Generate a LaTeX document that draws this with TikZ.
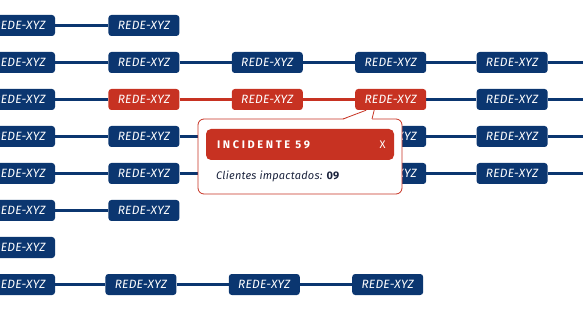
\documentclass[tikz,border=0pt]{standalone}
\usepackage{fontspec}
\setmainfont{Fira Sans}
\usepackage{tikz}
\usetikzlibrary{positioning,calc,backgrounds}
\definecolor{navy}{RGB}{11,54,112}
\definecolor{alert}{RGB}{199,50,34}
\definecolor{ink}{RGB}{28,36,62}
\tikzset{
  rede/.style={rectangle, rounded corners=3pt, fill=navy, text=white,
    minimum width=71pt, minimum height=21pt, inner sep=1pt,
    font=\fontsize{12}{12}\selectfont\itshape\addfontfeature{LetterSpace=2}},
  redefail/.style={rede, fill=alert},
  link/.style={draw=navy, line width=2.5pt},
  faillink/.style={link, draw=alert},
  popup/.style={rectangle, rounded corners=6pt, draw=alert, line width=0.8pt,
    fill=white, minimum width=204pt, minimum height=75pt},
  header/.style={rectangle, rounded corners=5pt, fill=alert,
    minimum width=188pt, minimum height=31pt},
  title/.style={text=white, inner sep=0pt,
    font=\fontsize{11}{12}\selectfont\bfseries\addfontfeature{LetterSpace=24}},
  closer/.style={text=white, inner sep=0pt, font=\fontsize{11}{12}\selectfont},
  info/.style={text=ink, inner sep=0pt,
    font=\fontsize{11}{12}\selectfont\addfontfeature{LetterSpace=2}},
}
\begin{document}
\begin{tikzpicture}[x=1pt, y=-1pt, node distance=15.6pt and 52pt]
  \clip (0,0) rectangle (583,312);
  \coordinate (edge) at (583,0);
  % grid of networks
  \node[rede] (a1) at (19.5,25.5) {REDE-XYZ};
  \node[rede, right=53pt of a1] (a2) {REDE-XYZ};
  \node[rede, below=of a1] (b1) {REDE-XYZ};
  \node[rede, right=53pt of b1] (b2) {REDE-XYZ};
  \node[rede, right=of b2] (b3) {REDE-XYZ};
  \node[rede, right=of b3] (b4) {REDE-XYZ};
  \node[rede, right=50pt of b4] (b5) {REDE-XYZ};
  \node[rede, below=of b1] (c1) {REDE-XYZ};
  \node[redefail, right=53pt of c1] (c2) {REDE-XYZ};
  \node[redefail, right=of c2] (c3) {REDE-XYZ};
  \node[redefail, right=of c3] (c4) {REDE-XYZ};
  \node[rede, right=50pt of c4] (c5) {REDE-XYZ};
  \node[rede, below=of c1] (d1) {REDE-XYZ};
  \node[rede, right=53pt of d1] (d2) {REDE-XYZ};
  \node[rede, right=of d2] (d3) {REDE-XYZ};
  \node[rede, right=of d3] (d4) {REDE-XYZ};
  \node[rede, right=50pt of d4] (d5) {REDE-XYZ};
  \node[rede, below=of d1] (e1) {REDE-XYZ};
  \node[rede, right=53pt of e1] (e2) {REDE-XYZ};
  \node[rede, right=of e2] (e3) {REDE-XYZ};
  \node[rede, right=of e3] (e4) {REDE-XYZ};
  \node[rede, right=50pt of e4] (e5) {REDE-XYZ};
  \node[rede, below=of e1] (f1) {REDE-XYZ};
  \node[rede, right=53pt of f1] (f2) {REDE-XYZ};
  \node[rede, below=of f1] (g1) {REDE-XYZ};
  \node[rede, below=of g1] (h1) {REDE-XYZ};
  \node[rede, right=50pt of h1] (h2) {REDE-XYZ};
  \node[rede, right=of h2] (h3) {REDE-XYZ};
  \node[rede, right=of h3] (h4) {REDE-XYZ};
  \begin{scope}[on background layer]
    \draw[link] (a1) -- (a2);
    \draw[link] (b1) -- (b2) -- (b3) -- (b4) -- (b5) -- (b5 -| edge);
    \draw[link] (c1) -- (c2);
    \draw[faillink] (c2) -- (c3) -- (c4);
    \draw[link] (c4) -- (c5) -- (c5 -| edge);
    \draw[link] (d1) -- (d2) -- (d3) -- (d4) -- (d5) -- (d5 -| edge);
    \draw[link] (e1) -- (e2) -- (e3) -- (e4) -- (e5) -- (e5 -| edge);
    \draw[link] (f1) -- (f2);
    \draw[link] (h1) -- (h2) -- (h3) -- (h4);
  \end{scope}
  % incident popup
  \node[popup] (pop) at (300,156.5) {};
  \coordinate (p1) at (343,119);
  \coordinate (p2) at ($(c4.south)+(-24.5,0)$);
  \coordinate (p3) at ($(c4.south)+(-16.5,0)$);
  \coordinate (p4) at (372,119);
  \fill[white] ($(p1)+(0,0.8)$) -- (p2) -- (p3) -- ($(p4)+(0,0.8)$) -- cycle;
  \draw[alert, line width=0.8pt, line join=round] (p1) -- (p2);
  \draw[alert, line width=0.8pt] (p3) -- (p4);
  \node[header] (hdr) at (300,144.5) {};
  \node[title, anchor=west] (ttl) at ($(hdr.west)+(11,0)$) {INCIDENTE 59};
  \node[closer] (close) at ($(hdr.east)+(-11.5,0)$) {X};
  \node[info, anchor=west] (cli) at (216,176.5) {\itshape Clientes impactados: \upshape\bfseries 09};
\end{tikzpicture}
\end{document}
